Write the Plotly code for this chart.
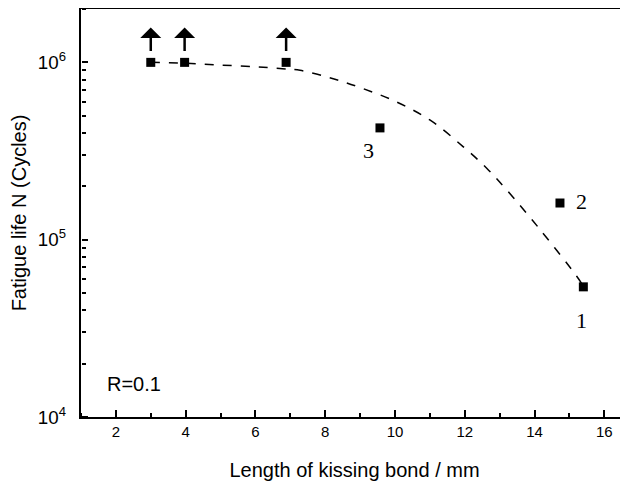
import numpy as np
import plotly.graph_objects as go

# measured points: bond length (mm) vs fatigue life (cycles)
bond_len = [3.0, 3.97, 6.88, 9.57, 14.73, 15.40]
fatigue_life = [1.0e6, 1.0e6, 1.0e6, 4.27e5, 1.61e5, 5.42e4]

# run-outs (arrows pointing up)
runout_x = [3.0, 3.97, 6.88]

# dashed trend line
fit_x = [3.0, 4.0, 5.0, 6.0, 6.7, 7.28, 8.23, 9.09, 10.05, 11.01, 11.96, 12.63, 13.2, 14.16, 15.21, 15.4]
fit_y = [1.0e6, 9.89e5, 9.66e5, 9.44e5, 9.23e5, 9.02e5, 8.09e5, 7.11e5, 5.98e5, 4.72e5,
         3.34e5, 2.53e5, 1.91e5, 1.14e5, 6.22e4, 5.47e4]

# specimen labels
label_text = ["3", "2", "1"]
label_x = [9.24, 15.35, 15.35]
label_y = [3.2e5, 1.64e5, 3.5e4]

x_range = [1, 16.68]
y_range = [4, 6.301]

font_sans = "Arial, Liberation Sans, sans-serif"

fig = go.Figure()

fig.add_trace(go.Scatter(
    x=fit_x, y=fit_y,
    mode="lines",
    line=dict(color="black", width=1.5, dash="dash", shape="spline", smoothing=1.0),
    showlegend=False,
))

fig.add_trace(go.Scatter(
    x=bond_len, y=fatigue_life,
    mode="markers",
    marker=dict(symbol="square", size=9, color="black"),
    showlegend=False,
))

# empty trace so the tick-only overlay axes get drawn
fig.add_trace(go.Scatter(x=[], y=[], xaxis="x2", yaxis="y2", showlegend=False, hoverinfo="skip"))

for xr in runout_x:
    fig.add_annotation(
        x=xr, y=6.197, ax=xr, ay=6.056,
        xref="x", yref="y", axref="x", ayref="y",
        showarrow=True, text="",
        arrowhead=1, arrowsize=1.4, arrowwidth=2.5, arrowcolor="black",
    )

for t, lx, ly in zip(label_text, label_x, label_y):
    fig.add_annotation(
        x=lx, y=np.log10(ly), text=t, showarrow=False,
        xanchor="center", yanchor="middle",
        font=dict(family="Liberation Serif, Times New Roman, serif", size=22, color="black"),
    )

fig.add_annotation(
    x=2.52, y=np.log10(1.53e4), text="R=0.1", showarrow=False,
    xanchor="center", yanchor="middle",
    font=dict(family=font_sans, size=20, color="black"),
)

# page body has an 8px margin, so the figure is sized to fit the window
fig.update_layout(
    width=620, height=475,
    margin=dict(l=73, r=0, t=1, b=66),
    plot_bgcolor="white",
    paper_bgcolor="white",
    font=dict(family=font_sans, color="black"),
    xaxis=dict(
        range=x_range,
        dtick=2, tick0=0,
        ticks="",
        showline=True, linewidth=2, linecolor="black", mirror=True,
        showgrid=False, zeroline=False, automargin=False,
        tickfont=dict(size=15),
        title=dict(text="Length of kissing bond / mm", font=dict(size=20), standoff=24),
    ),
    yaxis=dict(
        type="log",
        range=y_range,
        dtick=1,
        exponentformat="power",
        ticks="",
        showline=True, linewidth=2, linecolor="black",
        showgrid=False, zeroline=False, automargin=False,
        ticklabelstandoff=10,
        tickfont=dict(size=15),
        title=dict(text="Fatigue life N (Cycles)", font=dict(size=20), standoff=10),
    ),
    # tick-only axes sitting on the frame, ticks pointing into the plot
    xaxis2=dict(
        overlaying="x", anchor="free", position=0, side="top",
        range=x_range, dtick=2, tick0=0,
        ticks="outside", ticklen=7, tickwidth=2, tickcolor="black",
        minor=dict(dtick=1, tick0=0, ticks="outside", ticklen=4, tickwidth=2, tickcolor="black"),
        showticklabels=False, showline=False, showgrid=False, zeroline=False,
        automargin=False,
    ),
    yaxis2=dict(
        overlaying="y", anchor="free", position=0, side="right",
        type="log", range=y_range, dtick=1,
        ticks="outside", ticklen=6, tickwidth=2, tickcolor="black",
        minor=dict(dtick="D1", ticks="outside", ticklen=4, tickwidth=2, tickcolor="black"),
        showticklabels=False, showline=False, showgrid=False, zeroline=False,
        automargin=False,
    ),
)

fig.write_html("out.html")
